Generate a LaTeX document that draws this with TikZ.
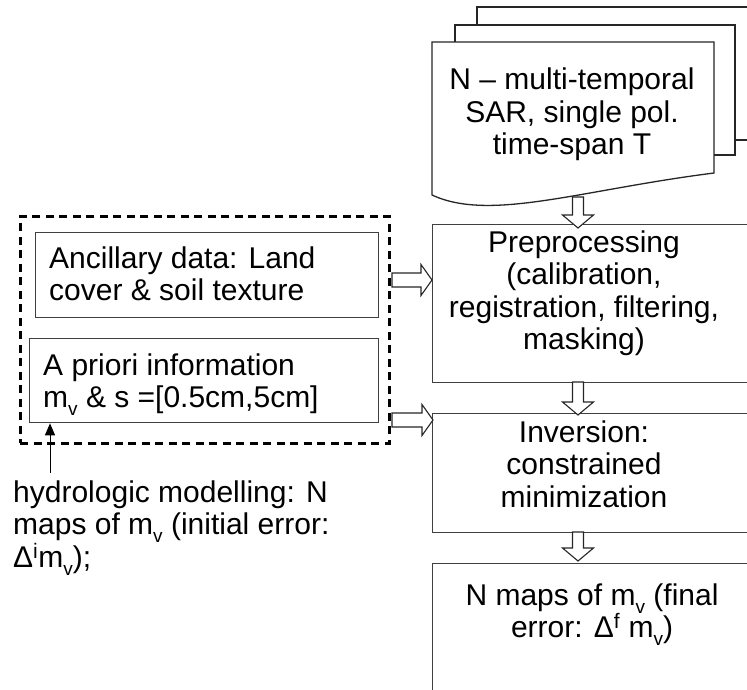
\documentclass[tikz,border=0pt]{standalone}
\usepackage{fontspec}
\setmainfont{Liberation Sans}
\usetikzlibrary{calc,arrows.meta}
\newcommand\lowsub[1]{\raisebox{-8pt}{\fontsize{19}{19}\selectfont #1}}
\def\downblock(#1)(#2){\draw[blockarrow] ($(#1)+(-5.5,0)$) -- ($(#2)+(-5.5,-13)$) -- ($(#2)+(-15.5,-13)$) -- (#2) -- ($(#2)+(15.5,-13)$) -- ($(#2)+(5.5,-13)$) -- ($(#1)+(5.5,0)$) -- cycle;}
\def\rightblock(#1)(#2){\draw[blockarrow] ($(#1)+(0,-7)$) -- ($(#2)+(-11,-7)$) -- ($(#2)+(-11,-15.5)$) -- (#2) -- ($(#2)+(-11,15.5)$) -- ($(#2)+(-11,7)$) -- ($(#1)+(0,7)$) -- cycle;}
\tikzset{
  procbox/.style={draw=black!75, line width=1.3pt, minimum width=330pt, anchor=north west, inner sep=0pt},
  groupbox/.style={draw=black, line width=2.7pt, dash pattern=on 8pt off 5.5pt, anchor=north west, inner sep=0pt},
  sheet/.style={draw=black!85, line width=1.3pt, fill=white},
  txt/.style={font=\fontsize{30}{32.5}\selectfont, inner sep=0pt, anchor=north, align=center},
  blockarrow/.style={draw=black!85, line width=1.1pt, fill=white}
}

\begin{document}
\begin{tikzpicture}[x=1pt,y=-1pt]
			%%%%% START %%%%%
			\useasboundingbox (0,0) rectangle (747,689);
			\clip (0,0) rectangle (747,689);
			
			\draw[sheet] (477,7) rectangle (770,140);
			\draw[sheet] (455,25) rectangle (735,155);
			\draw[sheet] (432,42) -- (714,42) -- (714,173) .. controls (580,190) and (490,222) .. (432,195) -- cycle;
			\node[txt] (sar) at (572,68) {N – multi-temporal\\SAR, single pol.\\time-span T};
			
			\node[procbox, minimum height=158pt] (prep) at (432,224) {};
			\node[procbox, minimum height=119pt] (inv) at (432,413) {};
			\node[procbox, minimum height=140pt] (maps) at (432,563) {};
			\node[txt] (preptext) at (584,230.5) {Preprocessing\\(calibration,\\registration, filtering,\\masking)};
			\node[txt] (invtext) at (584,420.5) {Inversion:\\constrained\\minimization};
			\node[txt] (mapstext) at (592,583.5) {N maps of m\lowsub{v} (final\\error: Δ\textsuperscript{f} m\lowsub{v})};
			
			\node[procbox, minimum width=343pt, minimum height=85pt] (anc) at (35,232) {};
			\node[procbox, minimum width=349pt, minimum height=84pt] (prior) at (29,338) {};
			\node[groupbox, minimum width=369pt, minimum height=227pt] (group) at (19,215) {};
			\node[txt, anchor=north west, align=left] (anctext) at (49,246.5) {Ancillary data: Land\\cover \& soil texture};
			\node[txt, anchor=north west, align=left] (priortext) at (43,353.5) {A priori information\\m\lowsub{v} \& s =[0.5cm,5cm]};
			\node[txt, anchor=north west, align=left] (hydro) at (13,480.5) {hydrologic modelling: N\\maps of m\lowsub{v} (initial error:\\Δ\textsuperscript{i}m\lowsub{v});};
			
			\coordinate (hydrotop) at (50,473);
			\draw[line width=1pt, -{Triangle[length=12pt,width=10pt]}] (hydrotop) -- (hydrotop |- prior.south);
			
			\coordinate (sarout) at (578,197);
			\coordinate (prepin) at (578,228);
			\coordinate (prepout) at (578,382);
			\coordinate (invin) at (578,415);
			\coordinate (invout) at (578,532);
			\coordinate (mapsin) at (578,561);
			\coordinate (ancout) at (392,280);
			\coordinate (prepleft) at (432,280);
			\coordinate (priorout) at (392,420);
			\coordinate (invleft) at (433,420);
			
			\downblock(sarout)(prepin)
			\downblock(prepout)(invin)
			\downblock(invout)(mapsin)
			\rightblock(ancout)(prepleft)
			\rightblock(priorout)(invleft)
			
			%%%%% END %%%%%
\end{tikzpicture}
\end{document}
